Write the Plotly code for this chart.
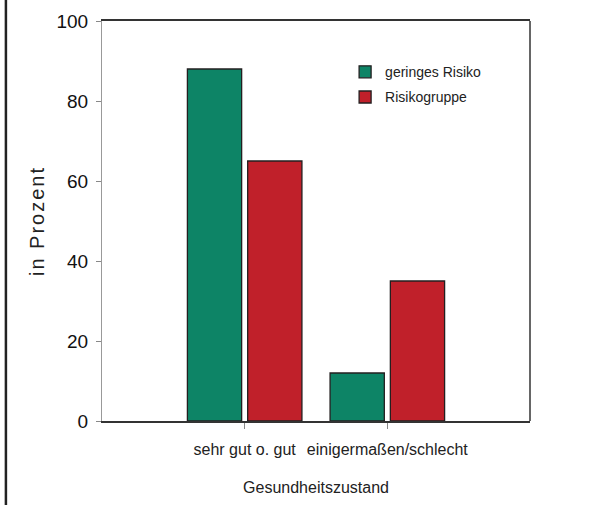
import plotly.graph_objects as go

categories = ["sehr gut o. gut", "einigermaßen/schlecht"]
geringes_risiko = [88, 12]
risikogruppe = [65, 35]
series_names = ["geringes Risiko", "Risikogruppe"]
y_ticks = [0, 20, 40, 60, 80, 100]

FONT = "Liberation Sans, Arial, sans-serif"
GREEN = "#0d8466"
RED = "#c0202a"
OUTLINE = "#231f20"

fig = go.Figure()
fig.add_trace(go.Bar(x=categories, y=geringes_risiko, name=series_names[0], legendgroup="a",
                     marker=dict(color=GREEN, line=dict(color=OUTLINE, width=1.3))))
fig.add_trace(go.Bar(x=categories, y=risikogruppe, name=series_names[1], legendgroup="b",
                     marker=dict(color=RED, line=dict(color=OUTLINE, width=1.3))))

fig.update_layout(
    width=590, height=505,
    margin=dict(l=102, r=60, t=21, b=84, autoexpand=False),
    paper_bgcolor="white", plot_bgcolor="white",
    barmode="group", bargap=0.155, bargroupgap=0.1,
    font=dict(family=FONT, color="#222222"),
    showlegend=True,
    legend=dict(x=0.568, y=0.912, xanchor="left", yanchor="top",
                bgcolor="rgba(0,0,0,0)", font=dict(size=14, family=FONT),
                traceorder="grouped", itemwidth=30, tracegroupgap=4),
)
fig.update_xaxes(
    type="category", range=[-1.0, 2.0], automargin=False, tickangle=0,
    showline=True, linecolor="#333333", linewidth=1.5, mirror=True,
    ticks="outside", ticklen=6, tickcolor="#888888", tickwidth=1,
    tickfont=dict(size=16, family=FONT), showgrid=False, ticklabelstandoff=7,
    title=dict(text="Gesundheitszustand", font=dict(size=16, family=FONT), standoff=25),
)
fig.update_yaxes(
    range=[0, 100], tickvals=y_ticks, automargin=False,
    showline=True, linecolor="#999999", linewidth=1.2,
    ticks="outside", ticklen=5, tickcolor="#888888", tickwidth=1,
    tickfont=dict(size=19, family=FONT, color="#111111"), showgrid=False, zeroline=False,
    ticklabelstandoff=4,
    title=dict(text='<span style="letter-spacing:2px">in Prozent</span>',
               font=dict(size=20, family=FONT), standoff=6),
)
# right frame edge (dark) and left page rule
fig.add_shape(type="line", xref="paper", yref="paper", x0=1, x1=1, y0=0, y1=1,
              line=dict(color="#333333", width=1.5))
fig.add_shape(type="line", xref="paper", yref="paper", x0=-0.2245, x1=-0.2245,
              y0=-0.22, y1=1.06, line=dict(color="#222222", width=2.5))

fig.write_html("out.html", config={"displayModeBar": False},
               post_script="document.body.style.margin='0px';")
